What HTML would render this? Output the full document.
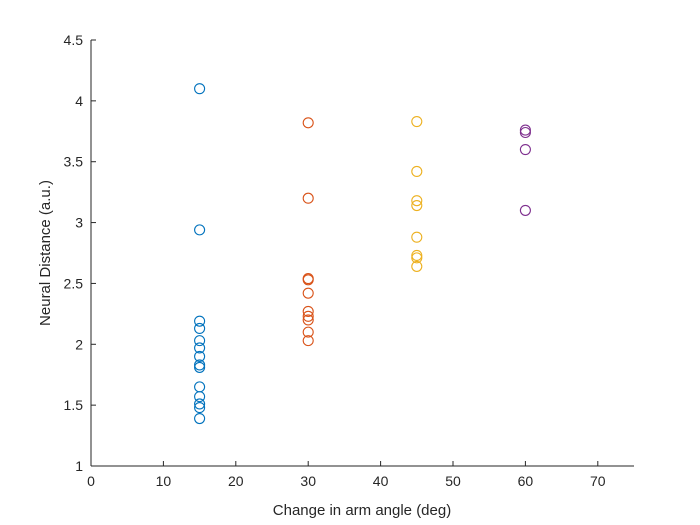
<!DOCTYPE html>
<html><head><meta charset="utf-8"><style>
body{margin:0;background:#fff;}
svg{display:block;font-family:"Liberation Sans",sans-serif;}
</style></head><body>
<svg id="chart" width="700" height="525">
<rect x="0" y="0" width="700" height="525" fill="#fff"/>
<g id="axes"></g>
<g id="points"></g>
<text x="362" y="515" text-anchor="middle" font-size="15" fill="#262626">Change in arm angle (deg)</text>
<text transform="translate(50,253) rotate(-90)" text-anchor="middle" font-size="15" fill="#262626">Neural Distance (a.u.)</text>
</svg>
<script>
const xTicks = [0,10,20,30,40,50,60,70];
const yTicks = [1,1.5,2,2.5,3,3.5,4,4.5];
const yTickLabels = ["1","1.5","2","2.5","3","3.5","4","4.5"];
const groupX = [15,30,45,60];
const groupColors = ["#0072BD","#D95319","#EDB120","#7E2F8E"];
const blueVals = [4.10,2.94,2.19,2.13,2.03,1.97,1.90,1.83,1.81,1.65,1.57,1.51,1.48,1.39];
const redVals = [3.82,3.20,2.54,2.53,2.42,2.27,2.23,2.20,2.10,2.03];
const yellowVals = [3.83,3.42,3.18,3.14,2.88,2.73,2.71,2.64];
const purpleVals = [3.76,3.74,3.60,3.10];
const series = [blueVals,redVals,yellowVals,purpleVals];

const L=91,R=634,T=40,B=466;
const xs = v => L + (v-0)/(75-0)*(R-L);
const ys = v => B - (v-1)/(4.5-1)*(B-T);
const NS="http://www.w3.org/2000/svg";
const ax=document.getElementById('axes');
function mk(tag,attrs,parent){const e=document.createElementNS(NS,tag);for(const k in attrs)e.setAttribute(k,attrs[k]);parent.appendChild(e);return e;}
let e=mk('line',{x1:L,y1:B,x2:R,y2:B,stroke:'#262626','stroke-width':1},ax);


e=mk('line',{x1:L,y1:T,x2:L,y2:B,stroke:'#262626','stroke-width':1},ax);


xTicks.forEach(t=>{
  const x=xs(t);
  let l=mk('line',{x1:x,y1:B,x2:x,y2:B-5,stroke:'#262626'},ax);
  
  
  let tx=mk('text',{x:x,y:B+20,'text-anchor':'middle','font-size':14,fill:'#262626'},ax);
  tx.textContent=String(t);
  
  
});
yTicks.forEach((t,i)=>{
  const y=ys(t);
  let l=mk('line',{x1:L,y1:y,x2:L+5,y2:y,stroke:'#262626'},ax);
  
  
  let tx=mk('text',{x:L-8,y:y+5,'text-anchor':'end','font-size':14,fill:'#262626'},ax);
  tx.textContent=yTickLabels[i];
  
  
});
const pg=document.getElementById('points');
series.forEach((vals,gi)=>{
  vals.forEach(v=>{
    let c=mk('circle',{cx:xs(groupX[gi]),cy:ys(v),r:5,fill:'none',stroke:groupColors[gi],'stroke-width':1.1},pg);
    
    
  });
});
</script>
</body></html>
